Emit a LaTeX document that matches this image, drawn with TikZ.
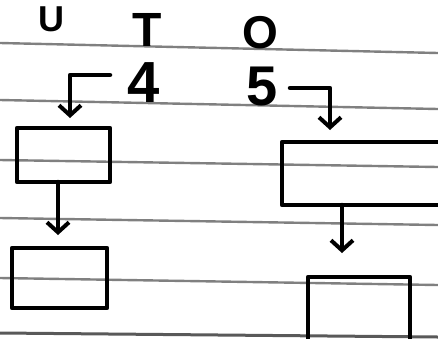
\documentclass[tikz,border=0pt]{standalone}
\usepackage{fontspec}
\setmainfont{Liberation Sans}
\usetikzlibrary{arrows.meta,calc}
\begin{document}
\begin{tikzpicture}[x=1pt,y=-1pt,
  ruled/.style={line width=2.4pt,draw=black!50},
  ink/.style={line width=4.5pt,draw=black,line join=round,line cap=round},
  box/.style={ink,rectangle,inner sep=0pt,outer sep=0pt},
  arr/.style={ink,-{Straight Barb[length=10pt,width=22pt,line width=4pt]}},
  letter/.style={anchor=base,inner sep=0pt,text=black}]
\useasboundingbox (0,0) rectangle (438,338);
\clip (0,0) rectangle (438,338);
\fill[white] (0,0) rectangle (438,338);
% ruled paper lines
\draw[ruled] (0,43) -- (438,53);
\draw[ruled] (0,100) -- (438,109);
\draw[ruled] (0,160) -- (438,167);
\draw[ruled] (0,218) -- (438,225);
\draw[ruled] (0,278) -- (438,285);
\draw[ruled,line width=3pt,draw=black!65] (0,333) -- (438,337);
% letters
\node[letter,font=\bfseries\fontsize{36}{36}\selectfont] (u) at (51,31) {U};
\node[letter,font=\bfseries\fontsize{48}{48}\selectfont] (t) at (147,46) {T};
\node[letter,font=\bfseries\fontsize{46}{46}\selectfont] (o) at (260,48) {O};
\node[letter,font=\bfseries\fontsize{58}{58}\selectfont] (four) at (144,102) {4};
\node[letter,font=\bfseries\fontsize{56}{56}\selectfont] (five) at (262,105) {5};
% boxes
\node[box,minimum width=93pt,minimum height=54pt] (lb1) at (63.5,155) {};
\node[box,minimum width=95pt,minimum height=60pt] (lb2) at (59.5,278) {};
\node[box,minimum width=188pt,minimum height=63pt] (rb1) at (376,173.5) {};
\node[box,minimum width=102pt,minimum height=73pt] (rb2) at (359,313.5) {};
% connectors
\coordinate (c4) at (110,75);
\coordinate (c5) at (290,88);
\draw[arr,shorten >=10pt] (c4) -| ([xshift=53pt]lb1.north west);
\draw[arr,shorten >=12pt] (c5) -| ([xshift=48pt]rb1.north west);
\draw[arr,shorten >=13pt] ([xshift=41pt]lb1.south west) -- ([xshift=46pt]lb2.north west);
\draw[arr,shorten >=24pt] ([xshift=60pt]rb1.south west) -- ([xshift=34pt]rb2.north west);
\end{tikzpicture}
\end{document}
